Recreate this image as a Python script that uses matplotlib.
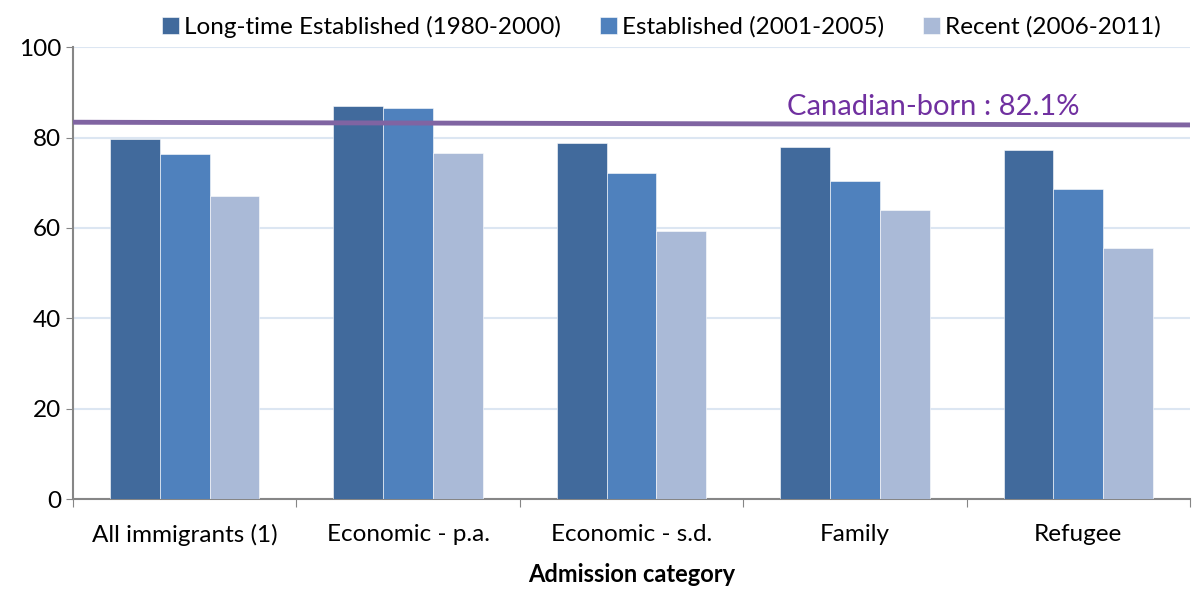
import numpy as np
import matplotlib.pyplot as plt

categories = ['All immigrants (1)', 'Economic - p.a.', 'Economic - s.d.', 'Family', 'Refugee']
long_time = [79.6, 86.9, 78.9, 77.9, 77.3]
established = [76.3, 86.6, 72.1, 70.4, 68.6]
recent = [67.0, 76.6, 59.3, 63.9, 55.5]
canadian_born = [83.4, 82.8]   # line drawn across the plot (label says 82.1%)

series_names = ['Long-time Established (1980-2000)', 'Established (2001-2005)', 'Recent (2006-2011)']
colors = ['#416A9C', '#4F81BD', '#AABAD7']

plt.rcParams['font.family'] = ['Lato', 'DejaVu Sans']

fig = plt.figure(figsize=(11.96, 5.90), dpi=100)
ax = fig.add_axes([0.061, 0.154, 0.934, 0.766])

x = np.arange(len(categories))
w = 0.223
for i, (vals, name) in enumerate(zip([long_time, established, recent], series_names)):
    ax.bar(x + (i - 1) * w, vals, width=w, color=colors[i], label=name, zorder=3,
           edgecolor='white', linewidth=0.4)

ax.plot([-0.5, len(categories) - 0.5], canadian_born, color='#8064A2', linewidth=3.5, zorder=4)
ax.text(3.35, 83.8, 'Canadian-born : 82.1%', color='#7030A0', fontsize=21, ha='center', va='bottom', zorder=5)

ax.set_xlim(-0.5, len(categories) - 0.5)
ax.set_ylim(0, 100)
ax.set_yticks(range(0, 101, 20))
ax.set_xticks(np.arange(-0.5, len(categories), 1.0))
ax.set_xticklabels([])
ax.set_xticks(x, minor=True)
ax.set_xticklabels(categories, minor=True, fontsize=17.5)
ax.tick_params(axis='x', which='minor', length=0, pad=18)
ax.tick_params(axis='x', which='major', length=6, color='#868686', direction='out')
ax.tick_params(axis='y', labelsize=17.5, length=5, color='#868686')

ax.grid(axis='y', color='#DCE6F2', linewidth=1.5, zorder=0)
for s in ['top', 'right']:
    ax.spines[s].set_visible(False)
for s in ['left', 'bottom']:
    ax.spines[s].set_color('#868686')
    ax.spines[s].set_linewidth(1.5)

ax.set_xlabel('Admission category', fontsize=17, fontweight='bold', labelpad=12)

fig.legend(loc='upper center', bbox_to_anchor=(0.553, 1.01), ncol=3, frameon=False,
           fontsize=17.5, handlelength=0.7, handleheight=0.7, handletextpad=0.2, columnspacing=1.6)

fig.savefig('out.png', dpi=100)
